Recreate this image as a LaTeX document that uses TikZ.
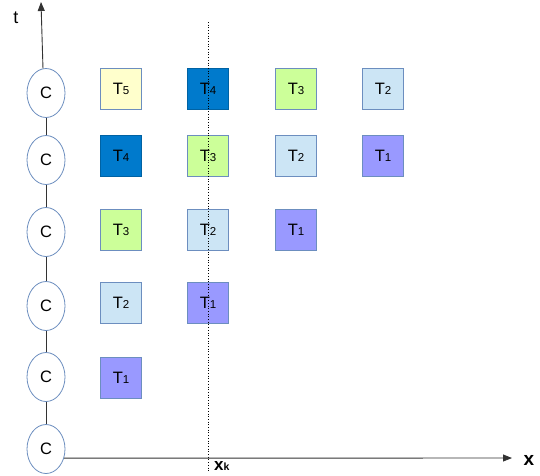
\documentclass[tikz,border=0pt]{standalone}
\usepackage{fontspec}
\setmainfont{Liberation Sans}
\usetikzlibrary{shapes.geometric,arrows.meta}
\definecolor{edgeblue}{HTML}{6C8EBF}
\definecolor{cT1}{HTML}{9999FF}
\definecolor{cT2}{HTML}{CCE5F5}
\definecolor{cT3}{HTML}{CCFF99}
\definecolor{cT4}{HTML}{007ACC}
\definecolor{cT5}{HTML}{FFFFCC}
\definecolor{axisgray}{HTML}{333333}
\newcommand{\tlab}[1]{T{\fontsize{11.5}{11.5}\selectfont #1}}
\tikzset{
  cnode/.style={ellipse,draw=edgeblue,line width=0.8pt,fill=white,minimum width=38pt,minimum height=49pt,inner sep=0pt,font=\fontsize{16.5}{16.5}\selectfont},
  task/.style={rectangle,draw=edgeblue,line width=0.8pt,minimum width=41pt,minimum height=41pt,inner sep=0pt,font=\fontsize{16.5}{16.5}\selectfont},
  t1/.style={task,fill=cT1},
  t2/.style={task,fill=cT2},
  t3/.style={task,fill=cT3},
  t4/.style={task,fill=cT4,draw=cT4!80!black},
  t5/.style={task,fill=cT5},
  axis/.style={draw=axisgray,line width=0.9pt,-{Triangle[length=9pt,width=7pt]}},
  link/.style={draw=axisgray,line width=0.9pt}
}
\begin{document}
\begin{tikzpicture}[x=1pt,y=-1pt]
\useasboundingbox (0,0) rectangle (540,475);
% dotted line
\coordinate (dtop) at (208,22);
\coordinate (dbot) at (208,472);
% tasks
\node[t5] (a1) at (121,89) {\tlab{5}};
\node[t4] (a2) at (208,89) {\tlab{4}};
\node[t3] (a3) at (296,89) {\tlab{3}};
\node[t2] (a4) at (383,89) {\tlab{2}};
\node[t4] (b1) at (121,156) {\tlab{4}};
\node[t3] (b2) at (208,156) {\tlab{3}};
\node[t2] (b3) at (296,156) {\tlab{2}};
\node[t1] (b4) at (383,156) {\tlab{1}};
\node[t3] (e1) at (121,230) {\tlab{3}};
\node[t2] (e2) at (208,230) {\tlab{2}};
\node[t1] (e3) at (296,230) {\tlab{1}};
\node[t2] (f1) at (121,303) {\tlab{2}};
\node[t1] (f2) at (208,303) {\tlab{1}};
\node[t1] (g1) at (121,378) {\tlab{1}};
\draw[dotted,line width=0.7pt] (dtop) -- (dbot);
% C nodes
\node[cnode] (c1) at (46,93) {C};
\node[cnode] (c2) at (46,160) {C};
\node[cnode] (c3) at (46,232) {C};
\node[cnode] (c4) at (46,306) {C};
\node[cnode] (c5) at (46,377) {C};
\node[cnode] (c6) at (46,449) {C};
\draw[link] (c1) -- (c2);
\draw[link] (c2) -- (c3);
\draw[link] (c3) -- (c4);
\draw[link] (c4) -- (c5);
\draw[link] (c5) -- (c6);
% axes
\coordinate (ttop) at (41,2);
\coordinate (xend) at (512,458);
\draw[axis] (c1.97) -- (ttop);
\draw[axis] (c6.-27) -- (xend);
\node[font=\fontsize{18}{18}\selectfont] (tl) at (16,18) {t};
\node[font=\bfseries\fontsize{19}{19}\selectfont] (xl) at (529,460) {x};
\node[font=\bfseries\fontsize{17}{17}\selectfont,anchor=west,inner sep=0pt] (xk) at (214,466) {x{\fontsize{10.5}{10.5}\selectfont k}};
\end{tikzpicture}
\end{document}
